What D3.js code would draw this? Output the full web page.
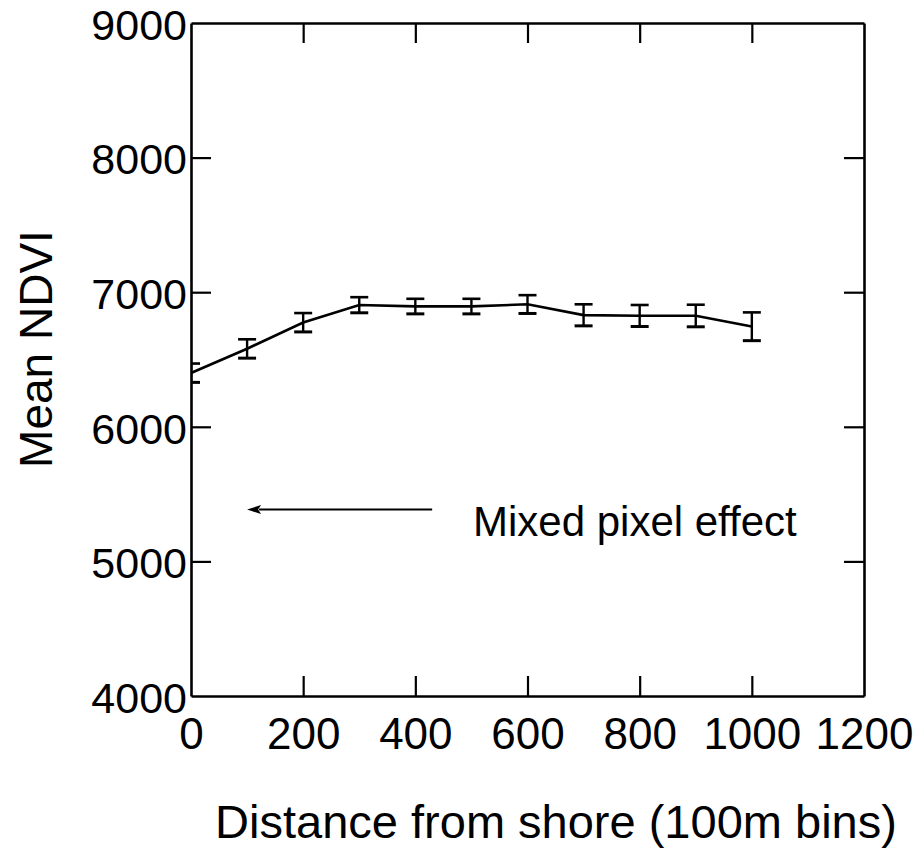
<!DOCTYPE html>
<html>
<head>
<meta charset="utf-8">
<script src="https://cdn.jsdelivr.net/npm/d3@7"></script>
<style>
  html, body { margin: 0; padding: 0; background: #fff; }
  svg { display: block; }
  text { font-family: "Liberation Sans", Arial, sans-serif; fill: #000; }
</style>
</head>
<body>
<svg id="chart" width="924" height="860"></svg>
<script>
// Mean NDVI by distance from shore (100 m bins), with error bars
const distances = [0, 100, 200, 300, 400, 500, 600, 700, 800, 900, 1000];
const meanNdvi  = [6400, 6580, 6775, 6905, 6895, 6895, 6910, 6830, 6825, 6825, 6745];
const errNdvi   = [70, 70, 70, 58, 56, 56, 68, 80, 80, 82, 105];

const xTicks = [0, 200, 400, 600, 800, 1000, 1200];
const yTicks = [4000, 5000, 6000, 7000, 8000, 9000];

const xTitle = "Distance from shore (100m bins)";
const yTitle = "Mean NDVI";
const noteText = "Mixed pixel effect";
// annotation arrow, in data units: tail distance, head distance, NDVI level
const arrowFrom = [430, 5385];
const arrowTo = [100, 5385];

const plotLeft = 191, plotRight = 864, plotTop = 23, plotBottom = 696;

const svg = d3.select("#chart");

const x = d3.scaleLinear().domain([0, 1200]).range([plotLeft, plotRight]);
const y = d3.scaleLinear().domain([4000, 9000]).range([plotBottom, plotTop]);

const tickLen = 20;
const fmt = d3.format("d");

// frame axes with inward ticks on all four sides
const gB = svg.append("g").attr("transform", `translate(0,${plotBottom})`)
  .call(d3.axisBottom(x).tickValues(xTicks).tickFormat(fmt).tickSizeInner(-tickLen).tickSizeOuter(0).tickPadding(22));
const gT = svg.append("g").attr("transform", `translate(0,${plotTop})`)
  .call(d3.axisTop(x).tickValues(xTicks).tickSizeInner(-tickLen).tickSizeOuter(0).tickFormat(""));
const gL = svg.append("g").attr("transform", `translate(${plotLeft},0)`)
  .call(d3.axisLeft(y).tickValues(yTicks).tickFormat(fmt).tickSizeInner(-tickLen).tickSizeOuter(0).tickPadding(4));
const gR = svg.append("g").attr("transform", `translate(${plotRight},0)`)
  .call(d3.axisRight(y).tickValues(yTicks).tickSizeInner(-tickLen).tickSizeOuter(0).tickFormat(""));

[gB, gT, gL, gR].forEach(g => {
  g.select(".domain").attr("stroke", "#000").attr("stroke-width", 2.6);
  g.selectAll(".tick line").attr("stroke", "#000").attr("stroke-width", 2.2);
});

gB.selectAll(".tick text")
  .attr("font-size", 44)
  .attr("font-family", "Liberation Sans, Arial, sans-serif")
  .attr("fill", "#000");
gL.selectAll(".tick text")
  .attr("font-size", 43)
  .attr("dy", "0.38em")
  .attr("font-family", "Liberation Sans, Arial, sans-serif")
  .attr("fill", "#000");

// hide tick marks that sit on the frame corners
gB.selectAll(".tick").filter(d => d === 0 || d === 1200).select("line").remove();
gT.selectAll(".tick").filter(d => d === 0 || d === 1200).select("line").remove();
gL.selectAll(".tick").filter(d => d === 4000 || d === 9000).select("line").remove();
gR.selectAll(".tick").filter(d => d === 4000 || d === 9000).select("line").remove();

// clip for marks inside the plotting frame
svg.append("clipPath").attr("id", "plotClip")
  .append("rect").attr("x", plotLeft).attr("y", plotTop)
  .attr("width", plotRight - plotLeft).attr("height", plotBottom - plotTop);

const plot = svg.append("g").attr("clip-path", "url(#plotClip)");

const pts = distances.map((d, i) => ({ d, v: meanNdvi[i], e: errNdvi[i] }));

// mean line
plot.append("path")
  .datum(pts)
  .attr("fill", "none")
  .attr("stroke", "#000")
  .attr("stroke-width", 2.6)
  .attr("d", d3.line().x(p => x(p.d)).y(p => y(p.v)));

// error bars
const capHalf = 9;
const eb = plot.append("g").selectAll("g").data(pts).join("g");
eb.append("line")
  .attr("x1", p => x(p.d)).attr("x2", p => x(p.d))
  .attr("y1", p => y(p.v + p.e)).attr("y2", p => y(p.v - p.e))
  .attr("stroke", "#000").attr("stroke-width", 2.4);
eb.append("line")
  .attr("x1", p => x(p.d) - capHalf).attr("x2", p => x(p.d) + capHalf)
  .attr("y1", p => y(p.v + p.e)).attr("y2", p => y(p.v + p.e))
  .attr("stroke", "#000").attr("stroke-width", 2.6);
eb.append("line")
  .attr("x1", p => x(p.d) - capHalf).attr("x2", p => x(p.d) + capHalf)
  .attr("y1", p => y(p.v - p.e)).attr("y2", p => y(p.v - p.e))
  .attr("stroke", "#000").attr("stroke-width", 3);

// annotation arrow and note
const ax0 = x(arrowFrom[0]), ax1 = x(arrowTo[0]), ay = y(arrowTo[1]);
const headLen = 14, headHalf = 4.5;
svg.append("line")
  .attr("x1", ax0).attr("y1", ay)
  .attr("x2", ax1 + headLen - 2).attr("y2", ay)
  .attr("stroke", "#000").attr("stroke-width", 2);
svg.append("path")
  .attr("d", `M${ax1},${ay} L${ax1 + headLen},${ay - headHalf} L${ax1 + headLen - 3},${ay} L${ax1 + headLen},${ay + headHalf} Z`)
  .attr("fill", "#000");

svg.append("text")
  .attr("x", 473).attr("y", 536)
  .attr("font-size", 42)
  .text(noteText);

// axis titles
svg.append("text")
  .attr("x", 556).attr("y", 838)
  .attr("text-anchor", "middle")
  .attr("font-size", 47)
  .text(xTitle);

svg.append("text")
  .attr("transform", "translate(52,349) rotate(-90)")
  .attr("text-anchor", "middle")
  .attr("font-size", 46)
  .text(yTitle);
</script>
</body>
</html>
